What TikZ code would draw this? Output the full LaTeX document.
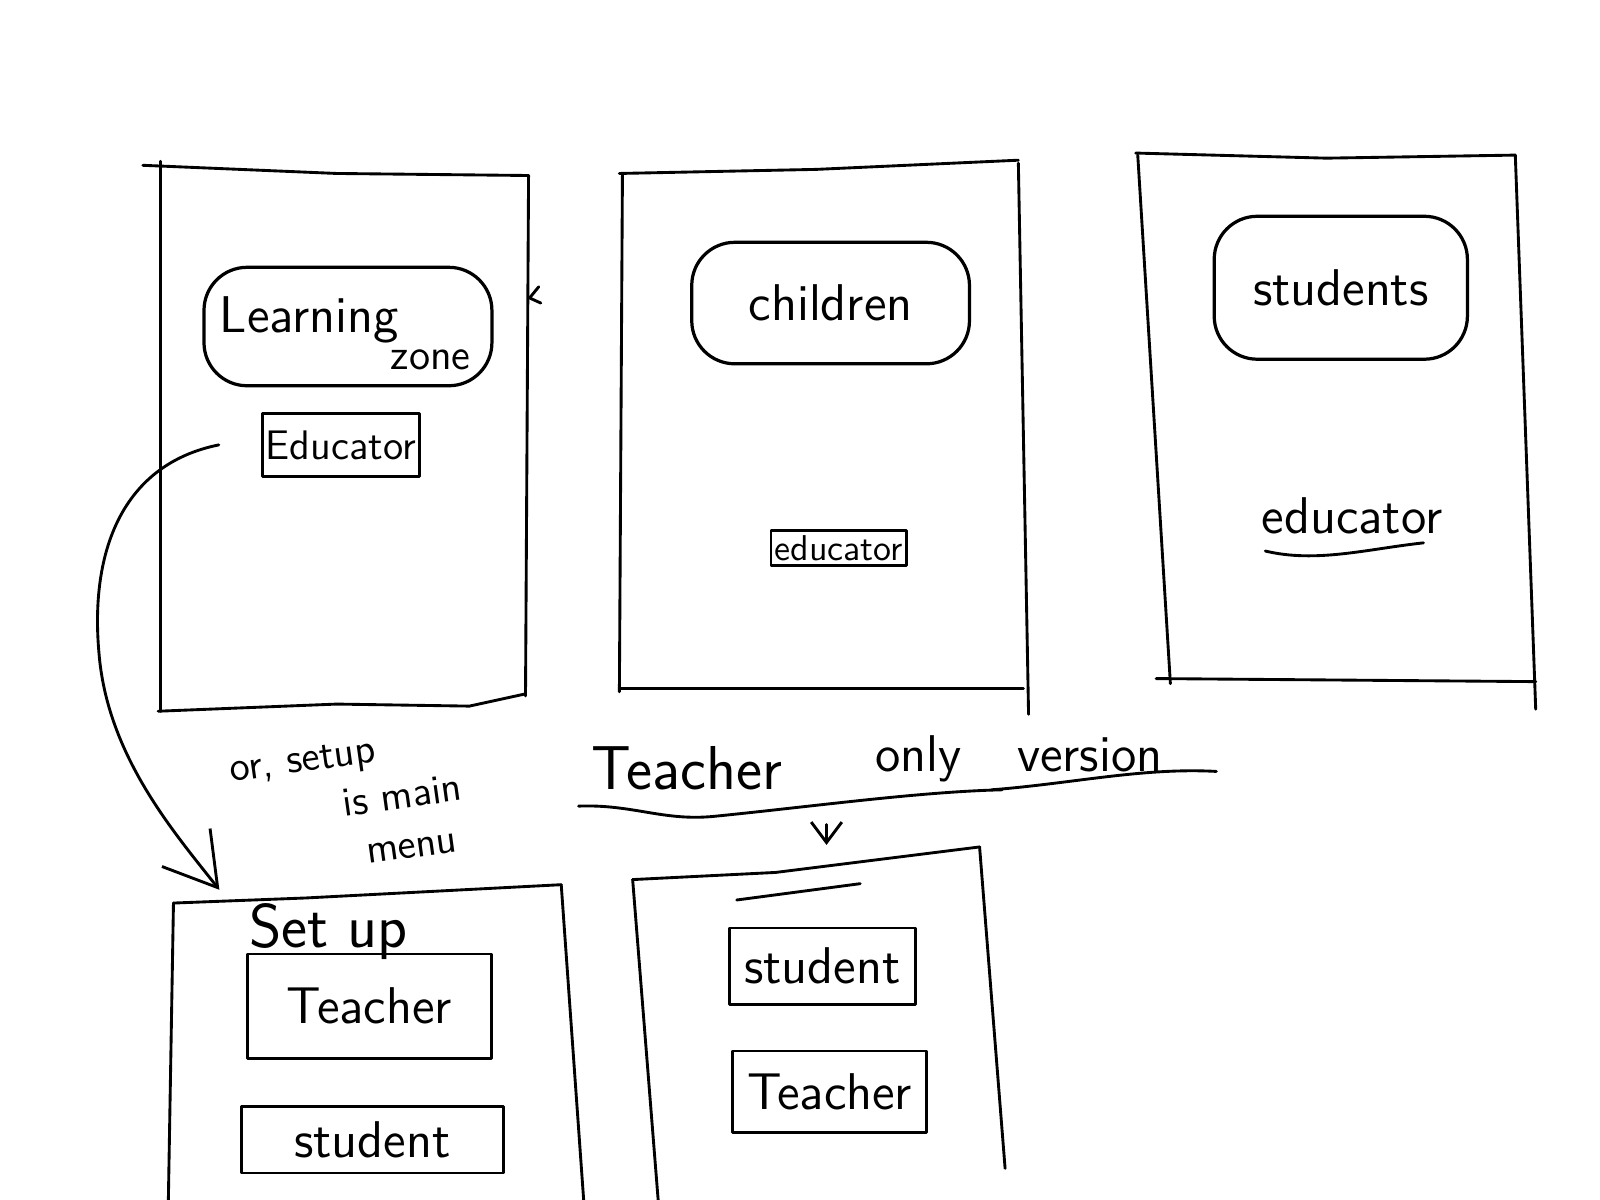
\documentclass[tikz,border=0pt]{standalone}
\usepackage{tikz}
\usetikzlibrary{positioning, arrows.meta, calc}

\begin{document}
\begin{tikzpicture}[x=0.01cm, y=-0.01cm, line width=0.8pt, line join=round, line cap=round,
  every node/.style={font=\sffamily\Large},
  tile/.style={draw, rounded corners=12pt, line width=0.9pt, align=center},
  btn/.style={draw, line width=0.8pt, inner sep=2pt},
  note/.style={font=\sffamily\fontsize{11.5}{14}\selectfont, rotate=8, align=left, inner sep=0pt}]
\useasboundingbox (0,0) rectangle (1568,1176);

% screen 1
\draw (140,162) -- (330,170) -- (518,172);
\draw (157,158) -- (157,697);
\draw (518,172) -- (515,682);
\draw (155,697) -- (330,690) -- (460,692) -- (515,680);
\node[tile, minimum width=2.82cm, minimum height=1.16cm] (zone) at (341,320) {};
\node (learnword) at (303,313) {Learning};
\node[font=\sffamily\large] (zoneword) at (422,353) {zone};
\node[btn, font=\sffamily\fontsize{11.5}{14}\selectfont, minimum width=1.42cm, minimum height=0.62cm, inner sep=1pt] (edu) at (334,436) {Educator};
\coordinate (tipa) at (519,292);
\draw (528,281) -- (tipa) -- (530,297);

% screen 2
\draw (607,170) -- (800,166) -- (998,157);
\draw (610,170) -- (607,678);
\draw (998,160) -- (1008,700);
\draw (607,675) -- (1003,675);
\node[tile, minimum width=2.72cm, minimum height=1.19cm] (kids) at (814,297) {children};
\node[btn, font=\sffamily\normalsize, minimum width=1.31cm, minimum height=0.35cm, inner sep=1pt] (edutwo) at (822,537) {educator};

% screen 3
\draw (1113,150) -- (1300,155) -- (1485,152);
\draw (1115,152) -- (1147,670);
\draw (1485,152) -- (1505,695);
\draw (1133,665) -- (1505,668);
\node[tile, minimum width=2.48cm, minimum height=1.40cm] (pupils) at (1314,282) {students};
\node (eduthree) at (1325,506) {educator};
\draw (1240,540) .. controls (1290,552) and (1340,538) .. (1395,532);

% notes
\node[note, anchor=north west] (orsetup) at (222,742) {or, setup\\\hspace*{2.6em}is main\\\hspace*{3em}menu};
\node[font=\sffamily\LARGE] (teachword) at (673,753) {Teacher};
\node (onlyword) at (900,744) {only};
\node (versword) at (1068,740) {version};
\draw (567,790) .. controls (620,788) and (650,805) .. (700,800) .. controls (800,790) and (900,776) .. (982,774);
\draw (972,774) .. controls (1050,768) and (1120,752) .. (1192,756);
\coordinate (downa) at (810,808);
\coordinate (downb) at (810,828);
\draw[-{Straight Barb[length=2mm, width=3mm]}] (downa) -- (downb);

% screen 4
\draw (170,885) -- (300,880) -- (550,867);
\draw (170,885) -- (165,1176);
\draw (550,867) -- (572,1176);
\node[font=\sffamily\LARGE] (setup) at (322,913) {Set up};
\node[btn, minimum width=2.39cm, minimum height=1.02cm] (teachbtn) at (362,986) {Teacher};
\node[btn, minimum width=2.56cm, minimum height=0.65cm] (studbtn) at (365,1117) {student};
\coordinate (setupin) at (215,872);

% screen 5
\draw (620,862) -- (760,855) -- (960,830);
\draw (620,862) -- (645,1176);
\draw (960,830) -- (985,1145);
\draw (722,882) -- (843,866);
\node[btn, minimum width=1.82cm, minimum height=0.75cm] (studtwo) at (806,947) {student};
\node[btn, minimum width=1.90cm, minimum height=0.80cm] (teachtwo) at (813,1070) {Teacher};

% educator to set up
\draw[-{Straight Barb[length=5mm, width=6mm]}] ([xshift=-0.41cm]edu.west) .. controls (120,455) and (88,540) .. (97,640) .. controls (105,740) and (170,815) .. (setupin);
\end{tikzpicture}
\end{document}
